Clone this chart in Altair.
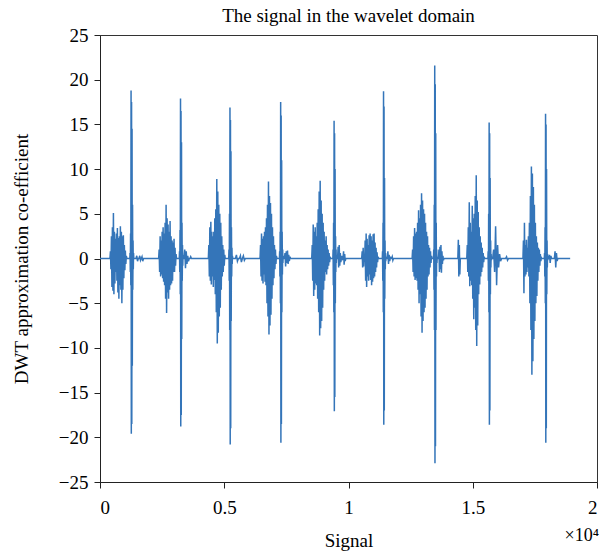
import altair as alt
import pandas as pd

# ---- signal data: each burst = (start sample, step between samples, values) ----
B1 = [0, 0.8, -1.2, 2.5, -3.2, 3.5, -3.6, 5.1, -4.0, 3.0, -2.8, 2.2, -1.5, 2.8, -2.5, 3.4, -3.8,
      2.3, -4.5, 2.5, -3.0, 3.6, -3.5, 3.0, -5.0, 2.5, -3.5, 2.6, -2.2, 1.5, -1.3, 0.9, -0.6, 0.3, 0]
S1 = [0, 0.6, -1.5, 2.8, -3.0, 18.8, -19.6, 17.5, -18.5, 14.5, -12.0, 6.0, -3.5, 2.0, -1.2, 0.6, 0]
D1 = [0, 0.3, -0.3, 0, 0, 0.3, -0.2, 0, 0.2, -0.3, 0]

B2 = [0, 1.0, -1.5, 2.5, -2.0, 2.0, -1.8, 3.0, -2.2, 3.5, -2.6, 2.8, -3.0, 4.0, -4.5, 6.0, -6.1,
      4.5, -3.8, 3.8, -4.5, 3.0, -3.5, 4.2, -3.0, 2.5, -2.8, 2.0, -2.5, 1.8, -1.5, 2.2, -1.5, 1.2,
      -0.8, 0.5, 0]
S2 = [0, 0.8, -1.5, 3.2, -4.0, 17.9, -18.8, 16.5, -17.5, 13.0, -9.0, 4.0, -2.5, 1.5, -0.8, 0.4, 0]
D2 = [0, 1.0, -1.1, 0.8, -0.6, 0.3, -0.3, 0, 0, 0.2, 0]

B3 = [0, 1.5, -2.0, 3.5, -2.5, 4.1, -2.9, 3.0, -2.0, 2.5, -3.2, 3.0, -2.4, 4.5, -4.0, 5.5, -6.0,
      8.9, -9.5, 7.5, -8.3, 6.0, -6.5, 5.0, -5.5, 4.0, -3.5, 2.5, -2.0, 1.5, -1.5, 1.0, -0.8, 0.4, 0]
S3 = [0, 1.0, -2.5, 5.0, -8.0, 16.9, -20.8, 15.5, -19.0, 12.0, -7.0, 3.5, -2.0, 1.2, -0.6, 0.3, 0]
D3 = [0, 0.4, -0.3, 0, 0, 0.3, -0.4, 0, 0.3, -0.2, 0]

B4 = [0, 1.5, -2.0, 2.8, -2.5, 2.2, -2.8, 2.5, -1.8, 3.0, -2.6, 3.5, -3.0, 4.5, -5.0, 6.0, -6.5,
      8.6, -8.5, 7.0, -7.5, 6.2, -6.3, 5.0, -4.5, 3.5, -3.0, 2.5, -2.2, 1.5, -1.2, 1.0, -0.6, 0.3, 0]
S4 = [0, 0.8, -2.0, 3.0, -5.0, 17.5, -20.6, 16.0, -18.5, 11.0, -6.0, 3.0, -1.8, 1.0, -0.5, 0.3, 0]
D4 = [0, 0.6, -0.9, 0.8, -0.5, 0.9, -0.6, 0.4, -0.3, 0.2, 0]

B5 = [0, 1.5, -2.5, 3.8, -4.2, 3.0, -3.5, 3.5, -2.8, 2.5, -3.0, 4.0, -4.5, 5.5, -6.0, 7.5, -8.6,
      8.7, -7.8, 6.5, -7.0, 5.0, -5.5, 4.0, -3.5, 3.0, -2.5, 2.0, -1.5, 2.5, -1.8, 1.5, -1.2, 1.0,
      -0.8, 0.6, -0.4, 0.2, 0]
S5 = [0, 1.0, -3.0, 4.0, -6.0, 15.4, -17.1, 14.0, -15.5, 10.0, -5.0, 2.5, -1.5, 1.0, -0.5, 0.2, 0]
D5 = [0, 1.3, -1.0, 1.5, -0.8, 0.6, -0.4, 0.3, -0.2, 0.1, 0, 0.8, -0.7, 0.5, -0.3, 0]

B6 = [0, 0.8, -1.0, 1.2, -0.9, 0.5, -0.4, 2.0, -2.5, 2.8, -3.2, 2.2, -2.0, 1.5, -2.5, 2.6, -1.8,
      2.8, -2.4, 2.5, -3.0, 2.0, -2.6, 2.7, -2.2, 2.8, -2.0, 1.8, -1.5, 1.2, -1.0, 0.7, -0.4, 0.2, 0]
S6 = [0, 0.8, -2.5, 4.0, -6.0, 18.7, -18.6, 17.0, -17.0, 9.0, -4.5, 2.0, -1.2, 0.6, -0.3, 0.2, 0]
D6 = [0, 0.8, -0.6, 0.4, -0.3, 0.2, 0, 0, 0.2, -0.2, 0]

B7 = [0, 1.0, -1.5, 2.5, -2.0, 3.4, -2.4, 2.8, -2.2, 3.0, -2.5, 4.0, -3.5, 5.4, -5.0, 4.5, -4.0,
      6.0, -6.5, 7.3, -8.3, 6.5, -7.0, 5.5, -6.0, 5.0, -5.5, 4.0, -4.5, 3.0, -3.5, 2.5, -2.0, 1.5,
      -1.8, 1.2, -1.0, 0.8, -0.5, 0.3, 0]
S7 = [0, 1.0, -3.5, 6.0, -8.0, 21.6, -22.9, 19.5, -21.0, 14.0, -8.0, 4.0, -2.0, 1.0, -0.5, 0.2, 0]
D7 = [0, 1.0, -1.5, 1.3, -1.2, 1.5, -1.6, 0.8, -0.6, 0.3, -0.2, 0]

P8 = [0, 2.1, -2.0, 1.5, -1.8, 0]
B8 = [0, 1.5, -1.5, 3.5, -2.0, 6.3, -3.1, 4.0, -2.5, 3.0, -3.0, 5.9, -4.5, 4.5, -6.8, 5.0, -5.5,
      7.0, -8.0, 9.3, -9.8, 6.5, -7.5, 5.2, -4.0, 3.5, -2.9, 2.5, -2.0, 1.8, -1.5, 1.2, -1.0, 0.6,
      -0.4, 0.2, 0]
S8 = [0, 0.8, -2.5, 5.0, -6.0, 15.2, -18.6, 14.0, -17.0, 9.0, -4.0, 2.0, -1.0, 0.5, -0.2, 0.1, 0]
D8 = [0, 1.0, -1.5, 3.6, -3.0, 1.5, -1.0, 0.5, -0.3, 0, 0, 0, 0, 0, 0.2, -0.2, 0]

B9 = [0, 2.0, -3.9, 4.0, -2.0, 1.5, -1.8, 2.1, -1.5, 1.2, -1.0, 2.5, -2.0, 4.0, -5.0, 7.0, -8.0,
      10.3, -13.0, 9.5, -11.5, 8.0, -9.0, 6.0, -7.0, 4.0, -5.0, 2.5, -4.2, 1.8, -2.5, 1.2, -1.5,
      1.0, -0.8, 0.5, -0.3, 0.1, 0]
S9 = [0, 0.6, -2.0, 3.5, -5.0, 16.2, -20.6, 15.0, -19.0, 10.0, -4.0, 2.0, -1.0, 0.5, -0.2, 0.1, 0]
D9 = [0, 0.4, -0.5, 0.3, 0, 0, 0, 0, 0, 0.8, -1.0, 0.6, -0.3, 0]

SEGMENTS = [
    (0, 1, [0]),
    (400, 20, B1), (1200, 10, S1), (1450, 30, D1),
    (2360, 20, B2), (3190, 10, S2), (3380, 30, D2),
    (4360, 20, B3), (5180, 10, S3), (5450, 40, D3),
    (6440, 20, B4), (7220, 10, S4), (7420, 25, D4),
    (8520, 20, B5), (9370, 10, S5), (9560, 22, D5),
    (10530, 20, B6), (11360, 10, S6), (11560, 25, D6),
    (12560, 20, B7), (13420, 10, S7), (13620, 20, D7),
    (14400, 20, P8), (14760, 20, B8), (15610, 10, S8), (15800, 40, D8),
    (17020, 20, B9), (17880, 10, S9), (18060, 28, D9),
    (18920, 1, [0]),
]

rows = []
order = 0
for start, step, vals in SEGMENTS:
    for i, v in enumerate(vals):
        rows.append({"x": start + i * step, "y": v, "o": order})
        order += 1
df = pd.DataFrame(rows)

X_TICKS = [0, 5000, 10000, 15000, 20000]
Y_TICKS = [-25, -20, -15, -10, -5, 0, 5, 10, 15, 20, 25]
FONT = "Liberation Serif"

line = alt.Chart(df).mark_line(color="#3475b9", strokeWidth=1.5, clip=True).encode(
    x=alt.X("x:Q", scale=alt.Scale(domain=[0, 20000], nice=False, zero=False),
            axis=alt.Axis(values=X_TICKS, labelExpr="datum.value / 10000 + ''", title="Signal",
                          grid=False, tickSize=6, labelPadding=10, titlePadding=14,
                          labelFont=FONT, titleFont=FONT, labelFontSize=19, titleFontSize=19)),
    y=alt.Y("y:Q", scale=alt.Scale(domain=[-25, 25], nice=False),
            axis=alt.Axis(values=Y_TICKS, title="DWT approximation co-efficient",
                          grid=False, tickSize=6, labelPadding=6, titlePadding=27,
                          labelFont=FONT, titleFont=FONT, labelFontSize=19, titleFontSize=19)),
    order="o:Q",
)

exp_df = pd.DataFrame({"t": ["×10⁴"]})
exp_text = alt.Chart(exp_df).mark_text(
    align="right", baseline="middle", font=FONT, fontSize=18, color="black"
).encode(x=alt.value(499), y=alt.value(501), text="t:N")

chart = alt.layer(line, exp_text).properties(
    width=497, height=447,
    title=alt.TitleParams("The signal in the wavelet domain", font=FONT, fontSize=19,
                          fontWeight="normal", color="black", offset=0),
    autosize=alt.AutoSizeParams(type="none"),
    padding={"left": 100, "top": 35, "right": 11, "bottom": 72},
).configure_view(stroke="#333333", strokeWidth=1).configure_axis(
    labelColor="black", titleColor="black", domainColor="#222222", tickColor="#222222",
    titleFontWeight="normal",
)

chart.save("out.html", embed_options={"renderer": "svg", "actions": False})
